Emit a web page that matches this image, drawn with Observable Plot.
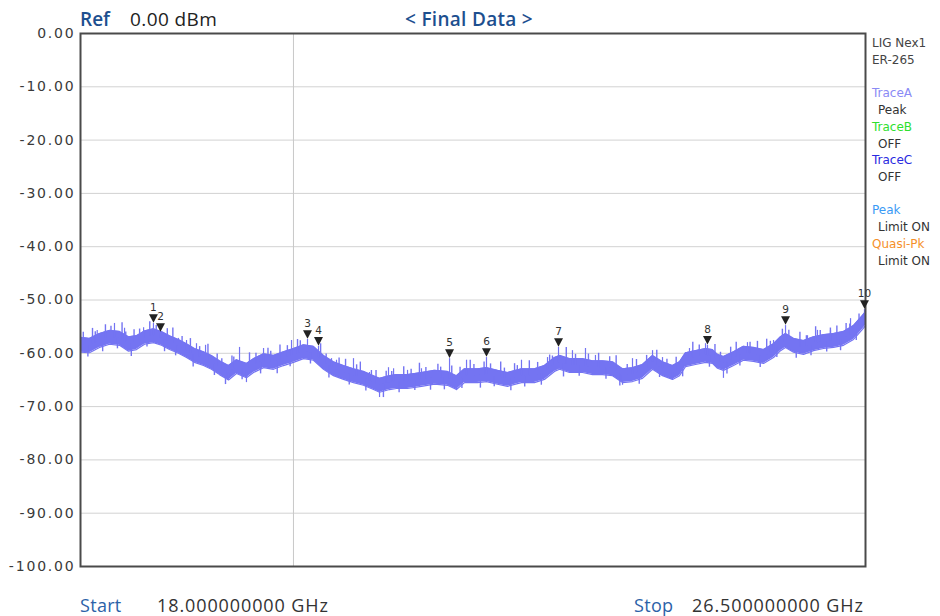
<!DOCTYPE html>
<html>
<head>
<meta charset="utf-8">
<script src="https://cdn.jsdelivr.net/npm/d3@7"></script>
<script src="https://cdn.jsdelivr.net/npm/@observablehq/plot@0.6"></script>
<style>
  html, body { margin: 0; padding: 0; background: #fff; }
  #wrap { position: relative; width: 940px; height: 616px; overflow: hidden; }
  .lbl { position: absolute; white-space: nowrap; font-family: "Open Sans", sans-serif; font-size: 18px; line-height: 1; }
  .leg { position: absolute; font-family: "DejaVu Sans", sans-serif; font-size: 12px; line-height: 1; color: #444; white-space: nowrap; }
  svg g[aria-label="y-axis tick label"] text { letter-spacing: 1.8px; }
</style>
</head>
<body>
<div id="wrap"></div>
<script>
// ---- data ----
const freqGHz = [18.000,18.097,18.206,18.314,18.422,18.520,18.606,18.693,18.790,18.877,18.964,19.061,19.148,19.234,19.332,19.418,19.505,19.603,19.689,19.797,19.873,19.982,20.090,20.198,20.306,20.415,20.523,20.631,20.739,20.848,20.956,21.064,21.173,21.238,21.346,21.422,21.541,21.692,21.833,21.974,22.071,22.158,22.299,22.396,22.515,22.624,22.775,22.916,23.024,23.132,23.187,23.295,23.436,23.544,23.652,23.761,23.869,23.977,24.085,24.194,24.302,24.410,24.486,24.551,24.659,24.768,24.843,24.897,24.962,25.071,25.179,25.287,25.396,25.504,25.580,25.634,25.720,25.829,25.937,26.045,26.153,26.262,26.370,26.467,26.500];
const traceHigh = [-57.0,-57.2,-56.3,-55.7,-55.9,-56.9,-56.7,-55.8,-55.4,-55.9,-56.7,-57.4,-58.2,-59.1,-59.7,-60.4,-61.4,-62.3,-61.2,-61.9,-61.0,-60.1,-60.4,-59.7,-59.1,-58.4,-58.7,-60.4,-61.6,-62.3,-62.9,-63.4,-64.2,-64.7,-64.2,-64.0,-64.0,-63.6,-63.2,-63.4,-64.2,-62.9,-62.9,-62.7,-63.2,-63.6,-62.9,-62.9,-62.3,-60.8,-60.4,-61.0,-61.0,-61.4,-61.4,-61.6,-62.9,-62.7,-62.1,-60.4,-61.6,-62.3,-61.6,-59.9,-59.5,-59.1,-59.3,-60.2,-60.6,-59.7,-58.7,-58.9,-59.3,-58.2,-56.9,-56.3,-57.2,-57.6,-56.9,-56.5,-56.3,-55.9,-54.8,-52.9,-52.2];
const traceLow = [-59.8,-59.9,-58.9,-58.3,-58.5,-59.6,-59.3,-58.3,-58.0,-58.5,-59.3,-60.0,-60.8,-61.7,-62.3,-63.0,-64.0,-65.0,-63.8,-64.6,-63.6,-62.7,-63.0,-62.3,-61.7,-61.0,-61.3,-63.0,-64.2,-64.9,-65.5,-66.0,-66.8,-67.3,-66.8,-66.6,-66.6,-66.2,-65.8,-66.0,-66.8,-65.5,-65.5,-65.3,-65.8,-66.2,-65.5,-65.5,-64.9,-63.4,-63.0,-63.6,-63.6,-64.0,-64.0,-64.2,-65.5,-65.3,-64.7,-63.0,-64.2,-64.9,-64.2,-62.5,-62.1,-61.7,-61.9,-62.8,-63.2,-62.3,-61.3,-61.5,-61.9,-60.8,-59.5,-58.9,-59.8,-60.2,-59.5,-59.1,-58.9,-58.5,-57.4,-55.5,-54.8];

// larger noise spikes on the trace (absolute level, dBm)
const spikeFreq = [18.368,18.181,18.477,18.683,19.061,19.148,19.256,19.354,19.722,19.982,20.285,20.718,20.772,20.956,21.129,21.335,21.390,21.541,21.692,22.180,22.775,23.057,23.327,23.468,23.576,23.977,24.194,24.302,24.594,24.625,24.768,25.222,25.504,25.872,25.980,26.121,26.338,
                   18.790,18.866,20.458,20.577,21.996,22.396,23.176,24.789,25.634,26.489,
                   19.603,19.797,21.238,22.071,23.869,24.410,24.962];
const spikeLevel = [-54.4,-55.7,-55.3,-55.2,-57.2,-57.6,-58.2,-58.5,-58.9,-59.1,-57.6,-61.0,-61.3,-61.0,-63.6,-62.7,-62.9,-63.2,-62.9,-61.3,-61.3,-60.8,-59.5,-59.1,-60.4,-61.0,-59.5,-60.8,-59.1,-59.5,-58.2,-58.0,-57.6,-56.7,-55.7,-55.7,-53.5,
                    -54.4,-56.1,-57.4,-58.7,-61.0,-60.8,-58.9,-58.5,-54.8,-51.8,
                    -65.1,-65.5,-68.3,-67.0,-66.0,-65.1,-64.7];

// small noise fringe: excursion beyond band edge (dB; + above, - below)
const noiseFreq = [18.03,18.08,18.13,18.16,18.24,18.27,18.33,18.40,18.45,18.49,
                   18.55,18.58,18.64,18.72,18.75,18.82,18.91,18.94,19.00,19.03,
                   19.10,19.19,19.22,19.29,19.38,19.45,19.48,19.53,19.57,19.64,
                   19.66,19.75,19.83,19.90,19.95,20.03,20.06,20.13,20.16,20.24,
                   20.27,20.35,20.38,20.49,20.60,20.66,20.69,20.80,20.87,20.91,
                   20.99,21.03,21.09,21.15,21.20,21.28,21.31,21.37,21.45,21.50,
                   21.58,21.62,21.67,21.74,21.79,21.87,21.90,21.94,22.02,22.11,
                   22.13,22.22,22.26,22.33,22.37,22.44,22.48,22.55,22.59,22.66,
                   22.70,22.73,22.81,22.86,22.95,22.99,23.08,23.11,23.23,23.26,
                   23.36,23.40,23.50,23.61,23.69,23.73,23.80,23.84,23.92,24.02,
                   24.05,24.13,24.24,24.27,24.35,24.45,24.52,24.63,24.70,24.81,
                   24.87,24.93,25.00,25.04,25.10,25.14,25.25,25.33,25.36,25.43,
                   25.47,25.54,25.60,25.67,25.75,25.79,25.86,25.91,25.96,26.01,
                   26.08,26.12,26.19,26.23,26.29,26.33,26.40,26.43];
const noiseRise = [1.0,-0.8,1.6,0.7,-1.0,1.3,0.8,-0.7,1.9,0.6,
                   -1.1,1.2,0.9,-0.6,1.5,0.8,-0.9,1.1,1.7,-0.7,
                   0.9,1.4,-1.0,0.7,1.8,-0.8,1.0,0.6,-1.2,1.3,
                   0.9,-0.7,1.6,0.8,-0.9,1.2,0.7,-1.1,1.5,0.9,
                   -0.6,1.4,1.0,-0.8,1.7,0.6,-1.0,1.1,1.3,-0.7,
                   0.9,1.6,-0.9,0.8,1.2,-1.2,1.0,0.7,-0.8,1.5,
                   0.9,-0.6,1.8,0.8,-1.0,1.2,0.7,-0.9,1.4,1.0,
                   -0.7,1.6,0.8,-1.1,1.1,0.9,-0.6,1.7,0.7,-1.0,
                   1.3,0.8,-0.8,1.5,1.0,-0.9,1.2,0.6,-1.2,1.9,
                   0.8,-0.7,1.1,1.4,-0.8,0.9,1.6,-1.0,0.7,1.3,
                   -0.9,1.0,1.5,-0.7,0.8,1.2,-1.1,1.7,0.9,-0.8,
                   1.4,0.6,-1.0,1.1,1.5,-0.7,0.9,1.3,-0.9,1.6,
                   0.8,-0.6,1.2,1.0,-1.0,1.4,0.7,-0.8,1.8,0.9,
                   -0.7,1.1,1.3,-0.9,1.2,0.7,-0.8,1.0];

// markers
const markerLabel = ["1","2","3","4","5","6","7","8","9","10"];
const markerFreq = [18.790,18.866,20.458,20.577,21.996,22.396,23.176,24.789,25.634,26.489];
const markerLevel = [-54.4,-56.1,-57.4,-58.7,-61.0,-60.8,-58.9,-58.5,-54.8,-51.8];

// axes / grid
const yTicks = [0,-10,-20,-30,-40,-50,-60,-70,-80,-90,-100];
const gridY = [-10,-20,-30,-40,-50,-60,-70,-80,-90];
const gridX = [20.306];

const legendText = ["LIG Nex1","ER-265","TraceA","Peak","TraceB","OFF","TraceC","OFF","Peak","Limit ON","Quasi-Pk","Limit ON"];
const legendColor = ["#444","#444","#8a8af5","#333","#2ee02e","#333","#2a2ae0","#333","#3a9af5","#333","#f5902a","#333"];
const legendTop = [37,54,87,104,121,138,154,171,204,221,238,255];
const legendIndent = [0,0,0,6,0,6,0,6,0,6,0,6];

// ---- build tables ----
const trace = freqGHz.map((f, i) => ({f, hi: traceHigh[i], lo: traceLow[i], mid: (traceHigh[i] + traceLow[i]) / 2}));
const hiAt = d3.scaleLinear(freqGHz, traceHigh);
const loAt = d3.scaleLinear(freqGHz, traceLow);
const midAt = f => (hiAt(f) + loAt(f)) / 2;
const spikes = spikeFreq.map((f, i) => ({f, level: spikeLevel[i], base: midAt(f)}));
const noise = noiseFreq.map((f, i) => {
  const r = noiseRise[i];
  return {f, base: midAt(f), level: r > 0 ? hiAt(f) + r : loAt(f) + r};
});
const markers = markerFreq.map((f, i) => ({f, level: markerLevel[i], label: markerLabel[i]}));

// downward-pointing triangle symbol for marker flags
const triangleDown = {
  draw(context, size) {
    const w = Math.sqrt(size) * 0.55;
    const h = w * 0.95;
    context.moveTo(-w, -h);
    context.lineTo(w, -h);
    context.lineTo(0, h);
    context.closePath();
  }
};

const traceColor = "#7474f2";

const chart = Plot.plot({
  width: 940,
  height: 616,
  marginLeft: 80,
  marginRight: 75,
  marginTop: 33,
  marginBottom: 50,
  style: {fontFamily: "DejaVu Sans, sans-serif", background: "#fff"},
  x: {domain: [18, 26.5], axis: null},
  y: {domain: [-100, 0], axis: null},
  marks: [
    Plot.ruleY(gridY, {stroke: "#d2d2d2", strokeWidth: 1}),
    Plot.ruleX(gridX, {stroke: "#c8c8c8", strokeWidth: 1}),
    Plot.areaY(trace, {x: "f", y1: "lo", y2: "hi", fill: traceColor, curve: "linear"}),
    Plot.lineY(trace, {x: "f", y: "hi", stroke: traceColor, strokeWidth: 1.2}),
    Plot.lineY(trace, {x: "f", y: "lo", stroke: traceColor, strokeWidth: 1.2}),
    Plot.ruleX(noise, {x: "f", y1: "base", y2: "level", stroke: traceColor, strokeWidth: 1.4}),
    Plot.ruleX(spikes, {x: "f", y1: "base", y2: "level", stroke: traceColor, strokeWidth: 1.2}),
    Plot.frame({stroke: "#4a4a4a", strokeWidth: 2}),
    Plot.axisY({ticks: yTicks, tickFormat: d => d.toFixed(2), tickSize: 0, tickPadding: 5, fontSize: 14, fill: "#3a3a3a", label: null}),
    Plot.dot(markers, {x: "f", y: "level", symbol: triangleDown, r: 4.6, dy: -5, fill: "#222", stroke: "none"}),
    Plot.text(markers, {x: "f", y: "level", text: "label", dy: -16, fontSize: 10.5, fill: "#333"})
  ]
});

const wrap = document.getElementById("wrap");
wrap.appendChild(chart);

function addLabel(cls, text, left, top, color, extra) {
  const d = document.createElement("div");
  d.className = cls;
  d.textContent = text;
  d.style.left = left + "px";
  d.style.top = top + "px";
  d.style.color = color;
  if (extra) Object.assign(d.style, extra);
  wrap.appendChild(d);
}
addLabel("lbl", "Ref", 80, 10, "#1d4f8f", {fontWeight: "600", fontSize: "19px"});
addLabel("lbl", "0.00 dBm", 130, 10, "#222", {fontSize: "19px", letterSpacing: "0.4px"});
addLabel("lbl", "< Final Data >", 405, 10, "#1d4f8f", {fontWeight: "600", fontSize: "19px", letterSpacing: "0.3px"});
addLabel("lbl", "Start", 80, 596, "#2b62a8", {letterSpacing: "0.3px"});
addLabel("lbl", "18.000000000 GHz", 157, 596, "#333", {letterSpacing: "0.9px"});
addLabel("lbl", "Stop", 634, 596, "#2b62a8", {letterSpacing: "0.3px"});
addLabel("lbl", "26.500000000 GHz", 692, 596, "#333", {letterSpacing: "0.9px"});
legendText.forEach((t, i) => addLabel("leg", t, 872 + legendIndent[i], legendTop[i], legendColor[i]));
</script>
</body>
</html>
